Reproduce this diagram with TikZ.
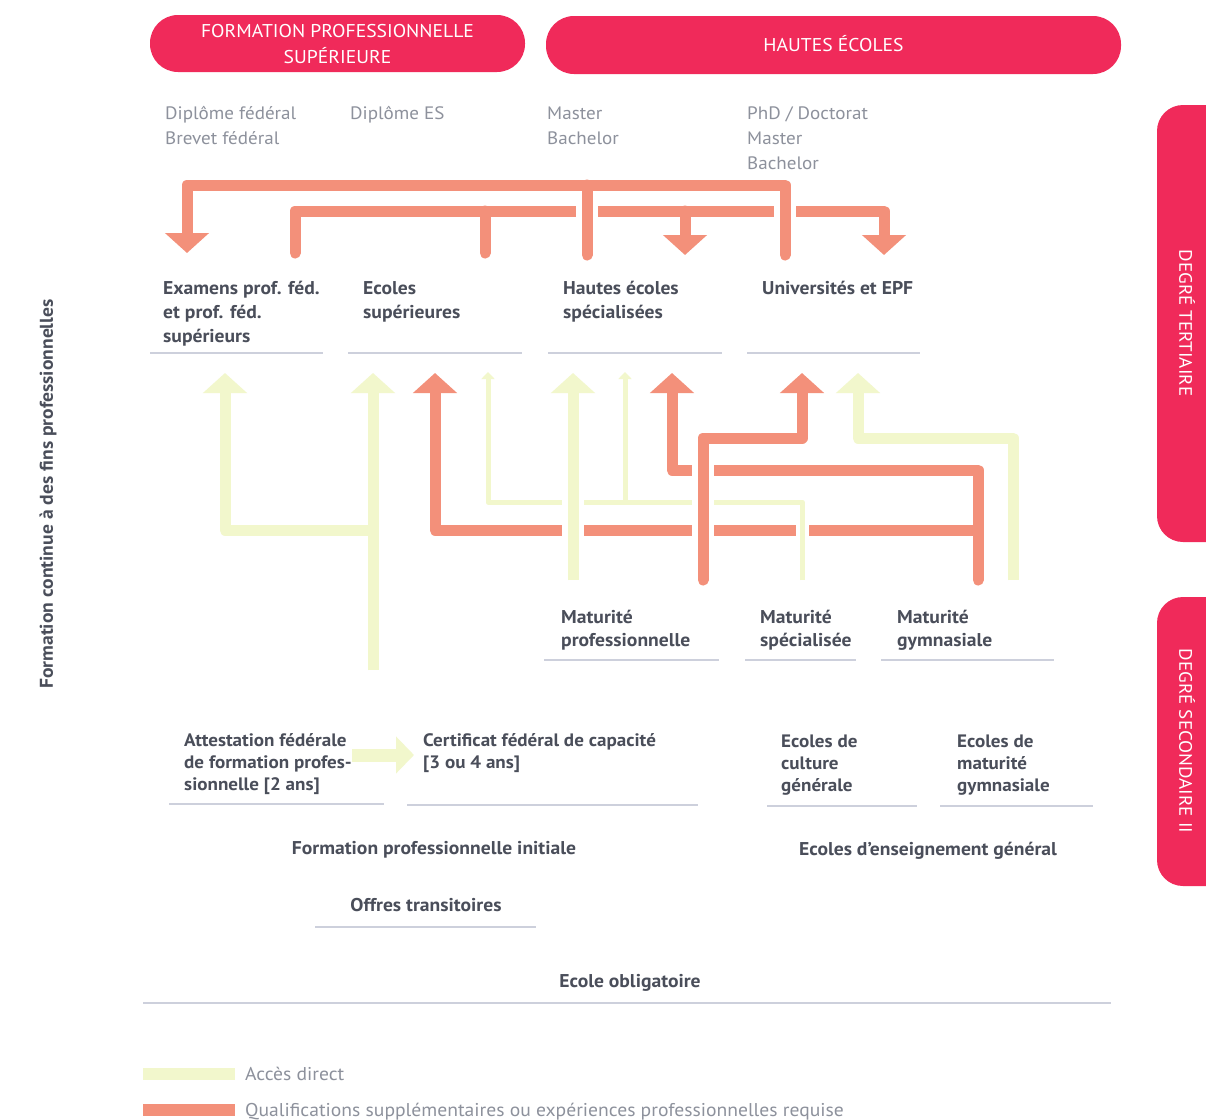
\documentclass[tikz,border=0pt]{standalone}
\usepackage{fontspec}
\setmainfont{PT Sans}[FakeStretch=1.06]
\usetikzlibrary{arrows.meta}
\definecolor{pinkred}{HTML}{F02A5A}
\definecolor{salmon}{HTML}{F3907A}
\definecolor{paleyel}{HTML}{F2F7CC}
\definecolor{txtdark}{HTML}{4A4E5A}
\definecolor{txtgrey}{HTML}{8D919C}
\definecolor{rulec}{HTML}{CDD0DC}
\begin{document}
\begin{tikzpicture}[x=1pt,y=-1pt,
  lbl/.style={font=\fontsize{18.5}{24}\selectfont\bfseries, text=txtdark, align=left, anchor=base west, inner sep=0pt},
  lbls/.style={lbl, font=\fontsize{18}{22}\selectfont\bfseries},
  lblm/.style={lbl, font=\fontsize{18.5}{23}\selectfont\bfseries},
  ctr/.style={font=\fontsize{18.5}{24}\selectfont\bfseries, text=txtdark, anchor=base, inner sep=0pt},
  dip/.style={font=\fontsize{18}{25}\selectfont, text=txtgrey, align=left, anchor=base west, inner sep=0pt},
  legtxt/.style={font=\fontsize{18.5}{20}\selectfont, text=txtgrey, anchor=base west, inner sep=0pt},
  uline/.style={draw=rulec, line width=1.5pt},
  pill/.style={fill=pinkred, rounded corners=28pt, inner sep=0pt},
  pilltxt/.style={text=white, font=\fontsize{18.5}{26}\selectfont, align=center, anchor=base, inner sep=0pt},
  sidetxt/.style={text=white, font=\fontsize{18}{20}\selectfont, inner sep=0pt},
  orng/.style={draw=salmon, line width=11pt, line join=round, line cap=round},
  yelw/.style={draw=paleyel, line width=11pt, line join=round},
  yelthin/.style={draw=paleyel, line width=5pt, line join=round},
  halo/.style={draw=white, line width=22pt},
  halothin/.style={draw=white, line width=13pt},
  bighead/.style={-{Triangle[width=43pt,length=20pt]}},
  smallhead/.style={-{Triangle[width=13pt,length=7pt]}},
]
\clip (0,0) rectangle (1206,1119);
\fill[white] (0,0) rectangle (1206,1119);

% ---- top pills
\node[pill, minimum width=375pt, minimum height=57pt] (fps) at (337.5,43.5) {};
\node[pilltxt] (fpst) at (337.5,63) {FORMATION PROFESSIONNELLE\\SUPÉRIEURE};
\node[pill, minimum width=575pt, minimum height=58pt] (he) at (833.5,45) {};
\node[pilltxt] (het) at (833.5,51) {HAUTES ÉCOLES};

% ---- side pills
\fill[pinkred, rounded corners=26pt] (1157,105) rectangle (1250,542);
\fill[pinkred, rounded corners=26pt] (1157,597) rectangle (1250,886);
\node[sidetxt, rotate=-90] (tert) at (1187,323) {DEGRÉ TERTIAIRE};
\node[sidetxt, rotate=-90] (sec) at (1187,741) {DEGRÉ SECONDAIRE II};

% ---- left rotated text
\node[font=\fontsize{18.5}{20}\selectfont\bfseries, text=txtdark, rotate=90, inner sep=0pt] (fc) at (48,494) {Formation continue à des fins professionnelles};

% ---- diplomas (anchor = baseline of last line)
\node[dip] (d1) at (165,144) {Diplôme fédéral\\Brevet fédéral};
\node[dip] (d2) at (350,119) {Diplôme ES};
\node[dip] (d3) at (547,144) {Master\\Bachelor};
\node[dip] (d4) at (747,169) {PhD / Doctorat\\Master\\Bachelor};

% ---- top arrows (tertiary)
\draw[orng, bighead] (295,253) -- (295,211) -- (884,211) -- (884,255);
\draw[orng] (485,211) -- (485,253);
\draw[orng, bighead] (685,211) -- (685,255);
\draw[halo] (785,255) -- (785,185) -- (187,185) -- (187,240);
\draw[halo] (587,185) -- (587,255);
\draw[orng, bighead] (785,255) -- (785,185) -- (187,185) -- (187,253);
\draw[orng] (587,185) -- (587,255);

% ---- tertiary nodes
\node[lbl] (exa) at (163,342) {Examens prof. féd.\\et prof. féd.\\supérieurs};
\node[lbl] (esup) at (363,318) {Ecoles\\supérieures};
\node[lbl] (hes) at (563,318) {Hautes écoles\\spécialisées};
\node[lbl] (uni) at (762,294) {Universités et EPF};
\draw[uline] (150,353) -- (323,353);
\draw[uline] (348,353) -- (522,353);
\draw[uline] (548,353) -- (722,353);
\draw[uline] (747,353) -- (920,353);

% ---- middle arrows
% orange from Maturite gymnasiale
\draw[orng, bighead] (978,580) -- (978,470) -- (672,470) -- (672,373);
\draw[orng, bighead] (978,530) -- (435,530) -- (435,373);
% yellow from CFC
\draw[yelw, bighead] (373,670) -- (373,373);
\draw[yelw, bighead] (373,530) -- (225,530) -- (225,373);
% yellow thin from Maturite specialisee
\draw[halothin] (802,580) -- (802,502) -- (488,502) -- (488,380);
\draw[halothin] (625,502) -- (625,380);
\draw[yelthin, smallhead] (802,580) -- (802,502) -- (488,502) -- (488,372);
\draw[yelthin, smallhead] (625,502) -- (625,372);
% yellow from Maturite professionnelle
\draw[halo] (573,580) -- (573,395);
\draw[yelw, bighead] (573,580) -- (573,373);
% orange from Maturite professionnelle
\draw[halo] (703,580) -- (703,438) -- (802,438) -- (802,395);
\draw[orng, bighead] (703,580) -- (703,438) -- (802,438) -- (802,373);
% yellow from Maturite gymnasiale
\draw[yelw, bighead] (1013,580) -- (1013,438) -- (858,438) -- (858,373);

% ---- maturites
\node[lblm] (mp) at (561,646) {Maturité\\professionnelle};
\node[lblm] (ms) at (760,646) {Maturité\\spécialisée};
\node[lblm] (mg) at (897,646) {Maturité\\gymnasiale};
\draw[uline] (544,660) -- (719,660);
\draw[uline] (745,660) -- (856,660);
\draw[uline] (881,660) -- (1054,660);

% ---- secondary II
\draw[yelw, line width=13pt, -{Triangle[width=36pt,length=18pt]}] (352,755) -- (414,755);
\node[lbls] (afp) at (184,790) {Attestation fédérale\\de formation profes-\\sionnelle [2 ans]};
\node[lbls] (cfc) at (423,768) {Certificat fédéral de capacité\\{}[3 ou 4 ans]};
\node[lbls] (ecg) at (781,791) {Ecoles de\\culture\\générale};
\node[lbls] (emg) at (957,791) {Ecoles de\\maturité\\gymnasiale};
\draw[uline] (169,804) -- (384,804);
\draw[uline] (407,805) -- (698,805);
\draw[uline] (767,806) -- (917,806);
\draw[uline] (940,806) -- (1093,806);

\node[ctr] (fpi) at (434,854) {Formation professionnelle initiale};
\node[ctr] (eeg) at (928,855) {Ecoles d’enseignement général};
\node[ctr] (ot) at (426,911) {Offres transitoires};
\draw[uline] (315,927) -- (536,927);
\node[ctr] (eo) at (630,987) {Ecole obligatoire};
\draw[uline] (143,1003) -- (1111,1003);

% ---- legend
\fill[paleyel] (143,1068) rectangle (235,1080);
\node[legtxt] (l1) at (245,1080) {Accès direct};
\fill[salmon] (143,1104) rectangle (235,1116);
\node[legtxt] (l2) at (245,1116) {Qualifications supplémentaires ou expériences professionnelles requise};
\end{tikzpicture}
\end{document}
